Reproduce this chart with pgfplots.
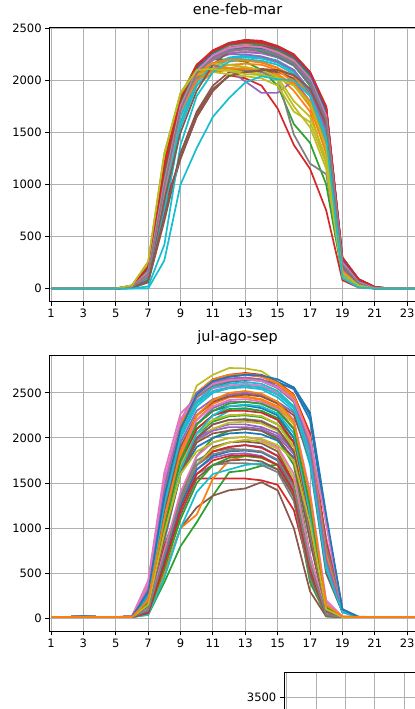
\documentclass[border=0pt]{standalone}
\usepackage{fontspec}
\setmainfont{DejaVu Sans}
\usepackage{pgfplots}
\usepackage{pgfplotstable}
\pgfplotsset{compat=1.18}

\definecolor{c0}{HTML}{1F77B4}
\definecolor{c1}{HTML}{FF7F0E}
\definecolor{c2}{HTML}{2CA02C}
\definecolor{c3}{HTML}{D62728}
\definecolor{c4}{HTML}{9467BD}
\definecolor{c5}{HTML}{8C564B}
\definecolor{c6}{HTML}{E377C2}
\definecolor{c7}{HTML}{7F7F7F}
\definecolor{c8}{HTML}{BCBD22}
\definecolor{c9}{HTML}{17BECF}
\definecolor{gridc}{HTML}{B0B0B0}

% one row per day, one column per hour
\pgfplotstableread{
h 1 2 3 4 5 6 7 8 9 10 11 12 13 14 15 16 17 18 19 20 21 22 23 24
s1 0 0 0 0 0 10 120 950 1700 2050 2200 2280 2300 2290 2240 2150 1950 1450 150 30 0 0 0 0
s2 0 0 0 0 0 5 80 800 1600 1950 2080 2100 2100 2090 2050 1900 1700 1200 120 20 0 0 0 0
s3 0 0 0 0 0 20 200 1200 1850 2150 2250 2320 2330 2300 2250 2150 1950 1500 200 40 5 0 0 0
s4 0 0 0 0 0 30 240 1150 1800 2100 2270 2350 2380 2370 2320 2230 2060 1700 260 80 10 0 0 0
s5 0 0 0 0 0 10 150 1000 1750 2080 2220 2290 2310 2300 2260 2180 1980 1550 180 40 0 0 0 0
s6 0 0 0 0 0 20 180 1100 1800 2120 2260 2340 2370 2360 2310 2240 2070 1720 280 80 10 0 0 0
s7 0 0 0 0 0 10 130 950 1700 2050 2200 2260 2280 2270 2230 2150 1980 1600 220 50 0 0 0 0
s8 0 0 0 0 0 15 160 1050 1750 2080 2230 2300 2320 2310 2270 2200 2030 1680 250 70 5 0 0 0
s9 0 0 0 0 0 25 230 1250 1870 2100 2150 2150 2120 2100 2050 1950 1750 1300 120 30 0 0 0 0
s10 0 0 0 0 0 5 60 700 1550 1950 2120 2200 2220 2210 2170 2080 1880 1450 150 30 0 0 0 0
s11 0 0 0 0 0 15 170 1050 1760 2100 2250 2330 2350 2340 2290 2200 2020 1650 240 60 5 0 0 0
s12 0 0 0 0 0 10 120 900 1680 2030 2150 2200 2200 2180 2120 2000 1780 1350 150 30 0 0 0 0
s13 0 0 0 0 0 20 200 1150 1820 2120 2200 2200 2180 2100 1950 1580 1400 1000 120 20 0 0 0 0
s14 0 0 0 0 0 10 100 800 1250 1650 1900 2050 2020 1950 1730 1380 1150 750 80 10 0 0 0 0
s15 0 0 0 0 0 20 190 1100 1800 2100 2150 2100 1990 1880 1880 2000 1800 1400 150 30 0 0 0 0
s16 0 0 0 0 0 5 60 650 1300 1700 1950 2080 2100 2110 2100 2050 1900 1550 200 50 0 0 0 0
s17 0 0 0 0 0 15 160 1000 1720 2080 2250 2340 2360 2350 2300 2220 2050 1700 260 70 5 0 0 0
s18 0 0 0 0 0 10 120 950 1700 2020 2100 2120 2100 2080 2020 1480 1200 1100 150 30 0 0 0 0
s19 0 0 0 0 0 30 250 1280 1880 2080 2100 2100 2080 2060 2000 1750 1550 1150 120 20 0 0 0 0
s20 0 0 0 0 0 10 100 850 1650 2000 2150 2220 2240 2230 2190 2100 1900 1500 160 30 0 0 0 0
s21 0 0 0 0 0 20 210 1150 1820 2140 2280 2360 2385 2375 2330 2250 2080 1740 300 90 15 0 0 0
s22 0 0 0 0 0 15 170 1050 1780 2050 2120 2120 2110 2100 2060 1960 1800 1400 150 20 0 0 0 0
s23 0 0 0 0 0 25 220 1200 1850 2150 2270 2330 2350 2330 2280 2190 2010 1650 230 60 5 0 0 0
s24 0 0 0 0 0 20 200 1150 1800 2130 2280 2360 2390 2380 2330 2250 2080 1750 290 90 15 0 0 0
s25 0 0 0 0 0 10 140 980 1720 2060 2200 2260 2270 2260 2220 2140 1960 1580 200 40 0 0 0 0
s26 0 0 0 0 0 5 70 700 1250 1650 1900 2050 2080 2090 2080 2020 1880 1500 180 40 0 0 0 0
s27 0 0 0 0 0 20 180 1080 1780 2110 2260 2330 2350 2340 2290 2200 2030 1680 250 60 5 0 0 0
s28 0 0 0 0 0 15 150 1000 1740 2080 2230 2310 2330 2320 2280 2200 2020 1660 240 60 5 0 0 0
s29 0 0 0 0 0 20 200 1150 1820 2060 2080 2060 2040 2020 1950 1700 1600 1200 150 30 0 0 0 0
s30 0 0 0 0 0 5 80 750 1600 1980 2150 2210 2230 2220 2180 2090 1890 1480 150 30 0 0 0 0
s31 0 0 0 0 0 15 160 1000 1750 2090 2230 2300 2320 2310 2260 2170 1990 1620 220 50 0 0 0 0
s32 0 0 0 0 0 10 130 950 1700 2000 2100 2150 2160 2150 2100 1980 1750 1300 150 30 0 0 0 0
s33 0 0 0 0 0 20 190 1100 1800 2130 2260 2340 2360 2340 2290 2200 2030 1680 250 70 10 0 0 0
s34 0 0 0 0 0 25 230 1200 1840 2150 2290 2360 2380 2370 2320 2240 2070 1730 280 80 10 0 0 0
s35 0 0 0 0 0 15 150 1000 1720 2070 2200 2250 2250 2230 2180 2100 1900 1520 180 40 0 0 0 0
s36 0 0 0 0 0 10 120 850 1500 1900 2150 2280 2320 2330 2300 2220 2060 1730 300 90 15 0 0 0
s37 0 0 0 0 0 10 130 950 1700 2060 2210 2280 2300 2290 2250 2170 2000 1630 230 50 0 0 0 0
s38 0 0 0 0 0 20 170 1050 1760 2100 2240 2310 2330 2320 2270 2190 2010 1650 240 60 5 0 0 0
s39 0 0 0 0 0 25 240 1300 1880 2120 2160 2150 2130 2100 2030 1800 1650 1250 130 20 0 0 0 0
s40 0 0 0 0 0 0 20 420 1380 1850 2080 2180 2200 2190 2150 2060 1850 1420 140 30 0 0 0 0
s41 0 0 0 0 0 20 200 1100 1800 2120 2270 2350 2370 2360 2310 2230 2060 1710 270 70 10 0 0 0
s42 0 0 0 0 0 15 160 1000 1740 2060 2170 2200 2190 2170 2120 2040 1850 1450 170 30 0 0 0 0
s43 0 0 0 0 0 15 170 1050 1770 2100 2230 2290 2300 2280 2230 2150 1970 1600 220 50 0 0 0 0
s44 0 0 0 0 0 20 210 1150 1820 2140 2280 2350 2370 2360 2320 2240 2080 1740 290 90 15 0 0 0
s45 0 0 0 0 0 15 150 1000 1730 2080 2220 2290 2300 2290 2240 2160 1980 1600 210 50 0 0 0 0
s46 0 0 0 0 0 5 80 700 1300 1680 1920 2040 2080 2100 2100 2050 1920 1580 220 50 0 0 0 0
s47 0 0 0 0 0 15 160 1020 1750 2090 2240 2310 2330 2320 2270 2190 2020 1660 250 60 5 0 0 0
s48 0 0 0 0 0 10 140 980 1720 2070 2210 2280 2300 2290 2250 2170 2000 1630 230 50 0 0 0 0
s49 0 0 0 0 0 30 260 1300 1870 2100 2110 2090 2060 2050 2020 1950 1780 1350 150 30 0 0 0 0
s50 0 0 0 0 0 0 0 270 1000 1350 1650 1830 1980 2040 2010 2000 1850 1450 100 10 0 0 0 0
}\rawA

\pgfplotstableread{
h 1 2 3 4 5 6 7 8 9 10 11 12 13 14 15 16 17 18 19 20 21 22 23 24
t1 15 15 25 15 15 20 300 1300 2050 2400 2560 2620 2640 2640 2600 2560 2250 1100 100 20 15 15 15 15
t2 15 15 15 15 15 15 180 1000 1800 2200 2380 2450 2460 2430 2350 2150 1300 150 20 15 15 15 15 15
t3 15 15 15 15 15 15 80 700 1350 1800 2000 2080 2100 2080 1980 1700 700 40 15 15 15 15 15 15
t4 15 15 25 15 15 20 320 1400 2150 2450 2600 2680 2700 2680 2600 2450 2000 800 90 15 15 15 15 15
t5 15 15 15 15 15 15 180 1000 1700 2000 2100 2150 2150 2120 2050 1850 1000 90 15 15 15 15 15 15
t6 15 15 15 15 15 15 60 600 1250 1700 1900 1950 1960 1940 1850 1500 500 30 15 15 15 15 15 15
t7 15 15 25 15 15 25 420 1620 2270 2450 2550 2580 2600 2580 2500 2350 1800 900 80 15 15 15 15 15
t8 15 15 15 15 15 15 150 950 1700 2050 2200 2250 2260 2240 2150 1900 900 80 15 15 15 15 15 15
t9 15 15 25 15 15 20 280 1350 2100 2580 2700 2775 2770 2740 2620 2450 2050 700 80 15 15 15 15 15
t10 15 15 15 15 15 15 120 850 1600 2000 2200 2300 2320 2300 2200 1950 1000 60 15 15 15 15 15 15
t11 15 15 15 15 15 15 70 650 1300 1700 1850 1900 1920 1900 1800 1450 450 30 15 15 15 15 15 15
t12 15 15 25 15 15 20 300 1350 2100 2450 2600 2650 2660 2640 2560 2400 1900 650 80 15 15 15 15 15
t13 15 15 15 15 15 15 40 400 800 1065 1360 1620 1640 1690 1700 1350 400 30 15 15 15 15 15 15
t14 15 15 15 15 15 15 100 800 1300 1550 1550 1550 1550 1530 1480 1200 500 40 15 15 15 15 15 15
t15 15 15 15 15 15 15 170 1050 1750 2150 2330 2400 2400 2380 2300 2100 1200 120 15 15 15 15 15 15
t16 15 15 15 15 15 15 50 500 1000 1230 1360 1420 1440 1510 1420 1000 300 20 15 15 15 15 15 15
t17 15 15 15 15 15 15 220 1150 1900 2250 2400 2480 2500 2470 2400 2200 1400 200 20 15 15 15 15 15
t18 15 15 15 15 15 15 90 700 1350 1750 1850 1880 1870 1850 1750 1400 600 40 15 15 15 15 15 15
t19 15 15 15 15 15 15 150 950 1650 1950 2100 2170 2180 2160 2080 1900 1100 90 15 15 15 15 15 15
t20 15 15 25 15 15 20 250 1250 2000 2350 2500 2550 2560 2540 2450 2300 1700 500 70 15 15 15 15 15
t21 15 15 15 15 15 15 160 950 1600 1900 2000 2050 2060 2040 1970 1780 1050 100 15 15 15 15 15 15
t22 15 15 15 15 15 15 50 500 1000 1150 1550 1750 1800 1780 1700 1400 550 40 15 15 15 15 15 15
t23 15 15 15 15 15 15 150 950 1700 2100 2250 2320 2330 2300 2220 2000 1150 100 15 15 15 15 15 15
t24 15 15 25 15 15 20 330 1450 2150 2500 2650 2700 2720 2700 2620 2480 2050 850 90 15 15 15 15 15
t25 15 15 15 15 15 15 80 650 1250 1650 1780 1820 1830 1800 1700 1350 500 30 15 15 15 15 15 15
t26 15 15 15 15 15 15 130 900 1600 1950 2050 2080 2100 2080 2000 1750 850 60 15 15 15 15 15 15
t27 15 15 25 15 15 20 350 1500 2150 2420 2520 2560 2580 2560 2480 2350 1850 1100 100 15 15 15 15 15
t28 15 15 15 15 15 15 70 650 1200 1600 1700 1720 1720 1700 1620 1300 450 30 15 15 15 15 15 15
t29 15 15 15 15 15 15 200 1100 1850 2250 2400 2480 2490 2460 2380 2150 1300 150 20 15 15 15 15 15
t30 15 15 15 15 15 15 40 450 1000 1400 1600 1650 1700 1720 1650 1400 600 40 15 15 15 15 15 15
t31 15 15 25 15 15 20 300 1350 2100 2480 2620 2680 2700 2690 2620 2540 2200 1050 100 15 15 15 15 15
t32 15 15 15 15 15 15 190 1050 1800 2200 2380 2450 2450 2420 2330 2100 1250 130 20 15 15 15 15 15
t33 15 15 15 15 15 15 160 1000 1700 2050 2180 2240 2250 2230 2150 1950 1150 110 15 15 15 15 15 15
t34 15 15 15 15 15 15 90 700 1300 1700 1850 1900 1920 1890 1800 1500 650 40 15 15 15 15 15 15
t35 15 15 25 15 15 20 270 1250 1950 2300 2430 2480 2500 2480 2400 2280 1850 650 80 15 15 15 15 15
t36 15 15 15 15 15 15 70 600 1150 1550 1700 1750 1760 1740 1650 1350 500 30 15 15 15 15 15 15
t37 15 15 15 15 15 15 200 1100 1850 2200 2350 2420 2430 2400 2320 2100 1300 180 20 15 15 15 15 15
t38 15 15 15 15 15 15 140 900 1650 2000 2150 2200 2210 2190 2100 1850 950 80 15 15 15 15 15 15
t39 15 15 15 15 15 15 80 650 1300 1700 1880 1950 1980 1960 1880 1550 650 40 15 15 15 15 15 15
t40 15 15 25 15 15 20 270 1300 2050 2400 2560 2600 2620 2600 2520 2350 1850 600 80 15 15 15 15 15
t41 15 15 15 15 15 15 170 1000 1750 2150 2300 2350 2360 2330 2250 2000 1100 100 15 15 15 15 15 15
t42 15 15 25 15 15 20 320 1400 2150 2500 2650 2700 2710 2690 2610 2470 2000 750 90 15 15 15 15 15
t43 15 15 15 15 15 15 60 550 1100 1500 1700 1780 1800 1780 1700 1400 550 30 15 15 15 15 15 15
t44 15 15 15 15 15 15 150 950 1700 2100 2250 2300 2300 2280 2200 1950 1050 90 15 15 15 15 15 15
t45 15 15 15 15 15 15 170 1000 1700 1980 2080 2120 2120 2100 2020 1820 1000 90 15 15 15 15 15 15
t46 15 15 25 15 15 20 250 1200 1900 2250 2400 2460 2480 2460 2380 2250 1750 500 70 15 15 15 15 15
t47 15 15 15 15 15 15 100 750 1400 1800 1950 2000 2010 1980 1900 1600 700 50 15 15 15 15 15 15
t48 15 15 25 15 15 20 290 1350 2100 2450 2580 2630 2650 2630 2550 2400 1950 800 90 15 15 15 15 15
t49 15 15 15 15 15 15 150 950 1700 2050 2200 2250 2260 2240 2150 1900 1000 80 15 15 15 15 15 15
t50 15 15 15 15 15 15 130 900 1650 2050 2250 2350 2370 2350 2270 2050 1150 100 15 15 15 15 15 15
t51 15 15 15 15 15 15 80 650 1250 1650 1800 1850 1860 1840 1750 1450 600 40 15 15 15 15 15 15
t52 15 15 25 15 15 20 300 1400 2150 2480 2640 2690 2700 2680 2600 2450 1950 700 80 15 15 15 15 15
t53 15 15 15 15 15 15 170 1000 1750 2150 2300 2380 2400 2380 2300 2100 1250 120 15 15 15 15 15 15
t54 15 15 15 15 15 15 60 600 1200 1600 1750 1800 1810 1790 1700 1400 550 40 15 15 15 15 15 15
t55 15 15 25 15 15 20 320 1450 2200 2500 2620 2660 2670 2650 2570 2420 1900 650 80 15 15 15 15 15
t56 15 15 15 15 15 15 140 900 1600 2000 2150 2200 2200 2180 2100 1850 1000 80 15 15 15 15 15 15
t57 15 15 25 15 15 25 380 1550 2200 2480 2600 2640 2650 2630 2560 2420 2000 1050 90 15 15 15 15 15
t58 15 15 15 15 15 15 90 700 1300 1700 1820 1860 1870 1850 1760 1450 600 40 15 15 15 15 15 15
t59 15 15 15 15 15 15 150 950 1600 1850 1950 2000 2010 1990 1920 1750 1050 100 15 15 15 15 15 15
t60 15 15 25 15 15 20 260 1250 2000 2380 2520 2560 2580 2560 2480 2330 1750 550 70 15 15 15 15 15
t61 15 15 25 15 15 20 290 1350 2100 2480 2630 2680 2700 2690 2650 2560 2280 1150 100 15 15 15 15 15
t62 15 15 15 15 15 15 200 1100 1850 2250 2420 2500 2520 2490 2400 2180 1350 150 20 15 15 15 15 15
}\rawB

\pgfplotstabletranspose[colnames from=h, input colnames to=hour]\dataA{\rawA}
\pgfplotstabletranspose[colnames from=h, input colnames to=hour]\dataB{\rawB}

\pgfplotsset{
  mpl/.style={
    scale only axis,
    width=375.4pt,
    xmin=0.9, xmax=24.15,
    xtick={1,3,...,23},
    grid=major,
    grid style={gridc, line width=0.9pt},
    axis line style={line width=0.9pt, -},
    tick align=outside,
    tick pos=left,
    major tick length=4.2pt,
    tick style={black, line width=0.9pt},
    tick label style={font=\fontsize{11.5}{13}\selectfont},
    /pgf/number format/assume math mode=true,
    /pgf/number format/set thousands separator={},
    title style={font=\fontsize{14.4}{17}\selectfont, at={(0.5,1)}, anchor=base, yshift=7.5pt},
    no markers,
    cycle list={{c0},{c1},{c2},{c3},{c4},{c5},{c6},{c7},{c8},{c9}},
    every axis plot/.append style={line width=1.7pt, line join=round},
  }
}

\begin{document}
\begin{tikzpicture}[trim left=0pt, trim right=413pt]

\begin{axis}[mpl, at={(49.3pt,406pt)}, anchor=south west, height=273pt,
  ymin=-125, ymax=2505, ytick={0,500,...,2500}, title={ene-feb-mar}]
\pgfplotsinvokeforeach{1,...,50}{\addplot table[x=hour, y=s#1]{\dataA};}
\end{axis}

\begin{axis}[mpl, at={(49.3pt,77.3pt)}, anchor=south west, height=275pt,
  ymin=-140, ymax=2915, ytick={0,500,...,2500}, title={jul-ago-sep}]
\pgfplotsinvokeforeach{1,...,62}{\addplot table[x=hour, y=t#1]{\dataB};}
\end{axis}

% next panel, only its upper left corner is in view
\begin{axis}[mpl, at={(283.3pt,36.3pt)}, anchor=north west, width=375pt, height=36.3pt,
  axis x line*=top, axis y line*=left,
  xmin=-0.1, xmax=12.74, xtick={0,...,12}, xticklabels={},
  xtick pos=right, xticklabel pos=right,
  xtick style={draw=none},
  ymin=3378, ymax=3781, ytick={3500}]
\end{axis}

\end{tikzpicture}
\end{document}
